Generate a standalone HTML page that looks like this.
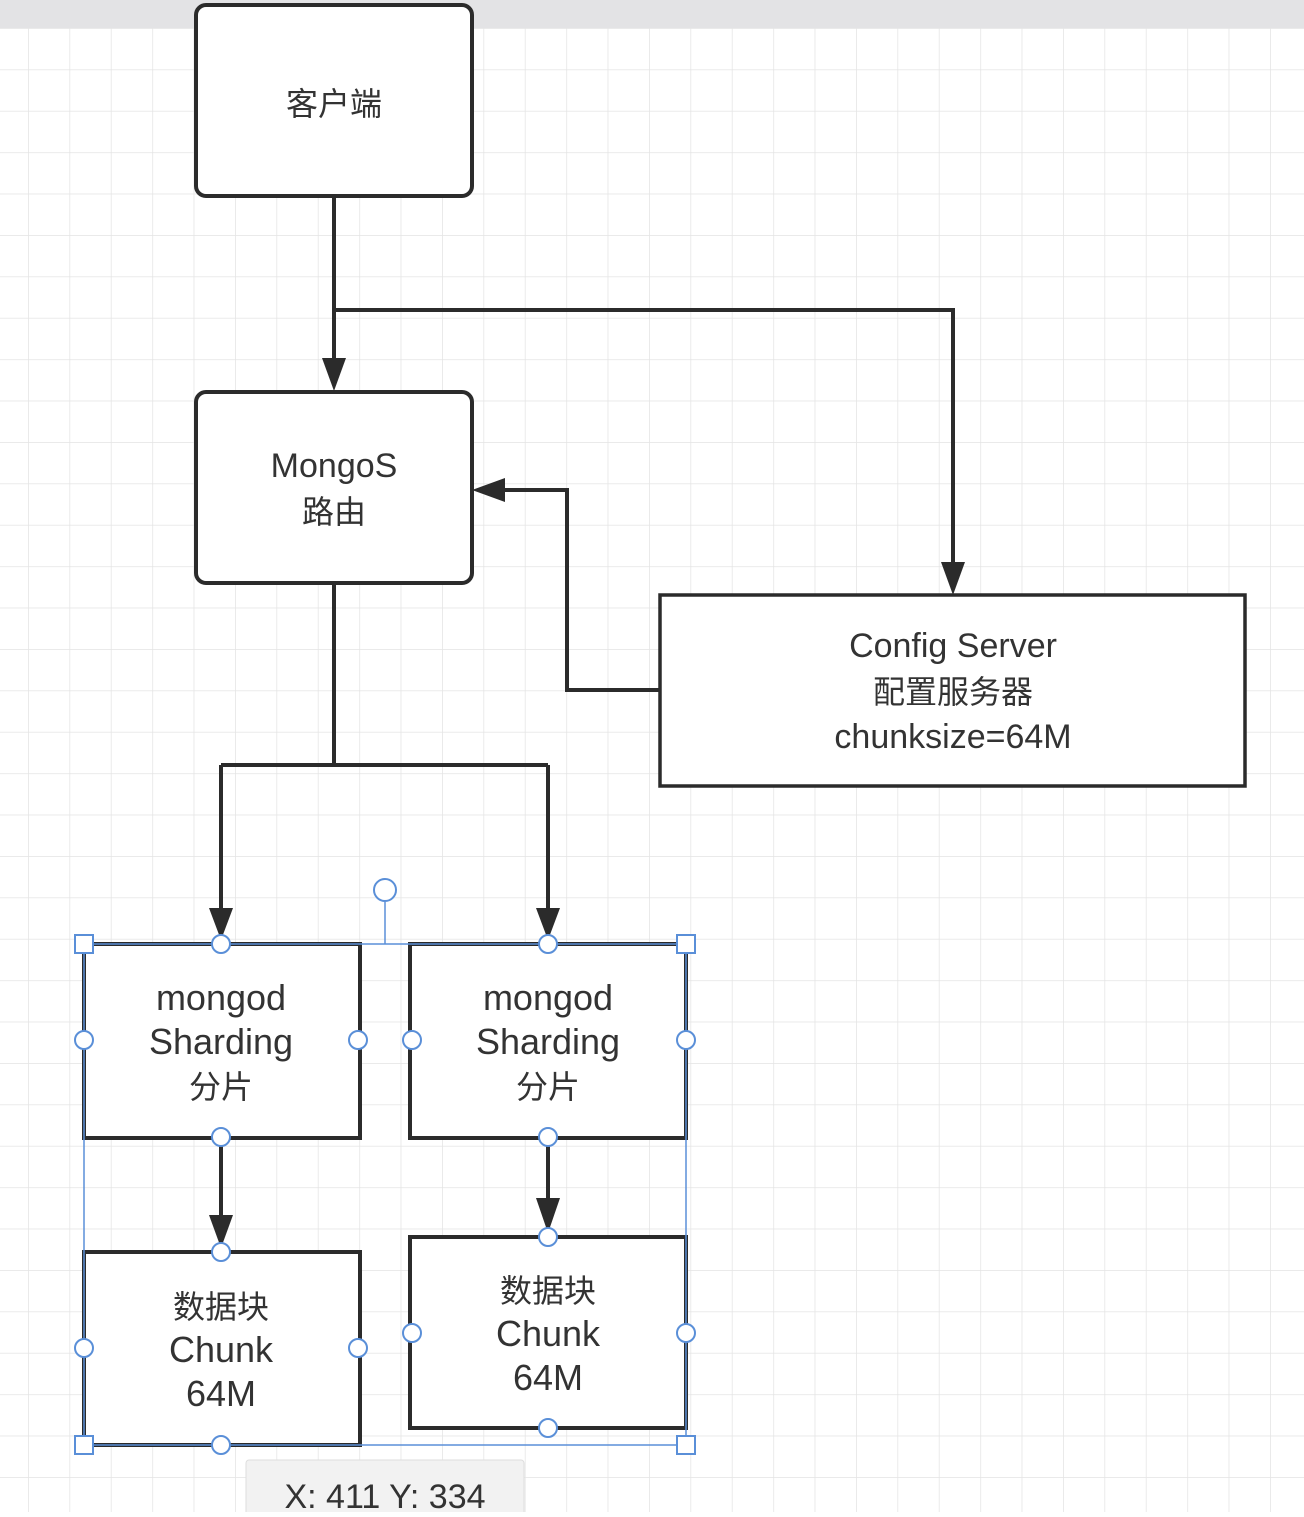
<!DOCTYPE html>
<html><head><meta charset="utf-8"><style>
body{margin:0;width:1304px;height:1512px;overflow:hidden;background:#fff}
svg text{font-family:"Liberation Sans","Noto Sans CJK SC",sans-serif;fill:#333;text-anchor:middle}
</style></head><body>
<svg width="1304" height="1512" viewBox="0 0 1304 1512" xmlns="http://www.w3.org/2000/svg">
<defs>
<pattern id="g" x="28" y="28" width="41.4" height="41.4" patternUnits="userSpaceOnUse">
<path d="M0 0H41.4M0 0V41.4" stroke="#e4e4e4" stroke-width="1.5" fill="none"/>
</pattern>
<marker id="a" markerWidth="10" markerHeight="10" refX="8" refY="5" orient="auto" markerUnits="userSpaceOnUse" viewBox="0 0 10 10">
</marker>
</defs>
<rect x="0" y="28" width="1304" height="1484" fill="url(#g)"/>
<rect x="0" y="0" width="1304" height="28" fill="#e3e3e5"/>
<g stroke="#2b2b2b" stroke-width="4" fill="none">
<path d="M334 196V365"/>
<path d="M334 310H953V565"/>
<path d="M660 690H567V490H500"/>
<path d="M334 583V765M221 765H548M221 765V915M548 765V915"/>
<path d="M221 1138V1225M548 1138V1208"/>
</g>
<g fill="#2b2b2b">
<path d="M322 358L334 391L346 358Z"/>
<path d="M941 562L953 595L965 562Z"/>
<path d="M505 478L472 490L505 502Z"/>
<path d="M209 908L221 940L233 908Z"/>
<path d="M536 908L548 940L560 908Z"/>
<path d="M209 1215L221 1248L233 1215Z"/>
<path d="M536 1198L548 1233L560 1198Z"/>
</g>
<g fill="#fff" stroke="#2b2b2b" stroke-width="4">
<rect x="196" y="5" width="276" height="191" rx="10"/>
<rect x="196" y="392" width="276" height="191" rx="10"/>
<rect x="660" y="595" width="585" height="191" stroke-width="3.5"/>
<rect x="84" y="944" width="276" height="194"/>
<rect x="410" y="944" width="276" height="194"/>
<rect x="84" y="1252" width="276" height="193"/>
<rect x="410" y="1237" width="276" height="191"/>
</g>
<text x="334" y="115" font-size="32">客户端</text>
<text x="334" y="477" font-size="34">MongoS</text>
<text x="334" y="523" font-size="32">路由</text>
<text x="953" y="657" font-size="34">Config Server</text>
<text x="953" y="703" font-size="32">配置服务器</text>
<text x="953" y="748" font-size="34">chunksize=64M</text>
<text x="221" y="1010" font-size="36">mongod</text>
<text x="221" y="1054" font-size="36">Sharding</text>
<text x="221" y="1098" font-size="32">分片</text>
<text x="548" y="1010" font-size="36">mongod</text>
<text x="548" y="1054" font-size="36">Sharding</text>
<text x="548" y="1098" font-size="32">分片</text>
<text x="221" y="1318" font-size="32">数据块</text>
<text x="221" y="1362" font-size="36">Chunk</text>
<text x="221" y="1406" font-size="36">64M</text>
<text x="548" y="1302" font-size="32">数据块</text>
<text x="548" y="1346" font-size="36">Chunk</text>
<text x="548" y="1390" font-size="36">64M</text>
<g stroke="#5a8fd8" stroke-width="1.5" fill="none">
<rect x="84" y="944" width="602" height="501"/>
<path d="M385 902V944"/>
</g>
<g stroke="#5a8fd8" stroke-width="2" fill="#fff">
<circle cx="385" cy="890" r="11"/>
<rect x="75" y="935" width="18" height="18"/><rect x="677" y="935" width="18" height="18"/>
<rect x="75" y="1436" width="18" height="18"/><rect x="677" y="1436" width="18" height="18"/>
<circle cx="221" cy="944" r="9"/><circle cx="548" cy="944" r="9"/>
<circle cx="84" cy="1040" r="9"/><circle cx="358" cy="1040" r="9"/>
<circle cx="412" cy="1040" r="9"/><circle cx="686" cy="1040" r="9"/>
<circle cx="221" cy="1137" r="9"/><circle cx="548" cy="1137" r="9"/>
<circle cx="221" cy="1252" r="9"/><circle cx="548" cy="1237" r="9"/>
<circle cx="84" cy="1348" r="9"/><circle cx="358" cy="1348" r="9"/>
<circle cx="412" cy="1333" r="9"/><circle cx="686" cy="1333" r="9"/>
<circle cx="221" cy="1445" r="9"/><circle cx="548" cy="1428" r="9"/>
</g>
<rect x="246" y="1460" width="278" height="60" rx="3" fill="#f2f2f2" stroke="#ddd"/>
<text x="385" y="1508" font-size="34" fill="#444">X: 411  Y: 334</text>
</svg>
</body></html>
